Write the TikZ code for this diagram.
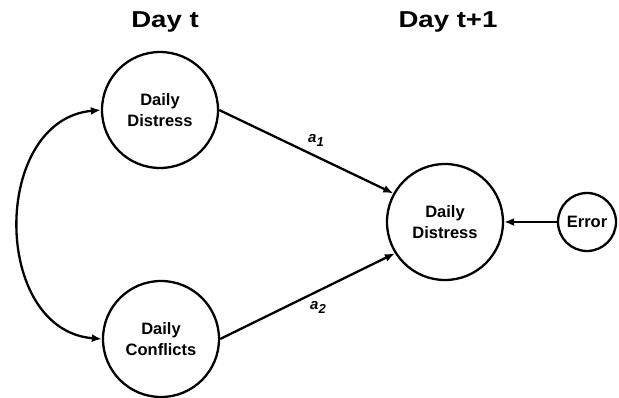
\documentclass[tikz,border=0pt]{standalone}
\usepackage{fontspec}
\setmainfont{Liberation Sans}
\usetikzlibrary{arrows.meta}
\newcommand{\sublbl}[2]{#1\raisebox{-4pt}{\fontsize{13}{15}\selectfont #2}}
\begin{document}
\begin{tikzpicture}[x=1pt,y=-1pt,
  var/.style={circle,draw,line width=2.3pt,minimum size=116pt,inner sep=0pt,align=center,font=\fontsize{16.5}{21}\selectfont\bfseries},
  err/.style={circle,draw,line width=2.3pt,minimum size=58pt,inner sep=0pt,font=\fontsize{16.5}{20}\selectfont\bfseries},
  tip/.style={line width=2.3pt},
  conn/.style={tip,-{Latex[length=10pt,width=8pt]}},
  ttl/.style={anchor=base,font=\fontsize{23}{27}\selectfont\bfseries},
  lbl/.style={font=\fontsize{15}{18}\selectfont\bfseries\itshape}]
\useasboundingbox (0,0) rectangle (619,398);
\node[ttl] (t0) at (165,28) {\scalebox{1.2}[1]{Day t}};
\node[ttl] (t1) at (448,28) {\scalebox{1.2}[1]{Day t+1}};
\node[var] (dd) at (160,110) {Daily\\Distress};
\node[var] (dc) at (161,339) {Daily\\Conflicts};
\node[var] (dn) at (445,222) {Daily\\Distress};
\node[err] (er) at (587,222) {Error};
\node[lbl] (a1) at (316,140) {\sublbl{a}{1}};
\node[lbl] (a2) at (318,307) {\sublbl{a}{2}};
\draw[conn] (dd.east) -- (dn.151);
\draw[conn] (dc.east) -- (dn.212);
\draw[conn] (er) -- (dn);
\draw[tip,{Latex[length=10pt,width=8pt]}-{Latex[length=10pt,width=8pt]}] (dd.west) .. controls (-9,120) and (-9,330) .. (dc.west);
\end{tikzpicture}
\end{document}
